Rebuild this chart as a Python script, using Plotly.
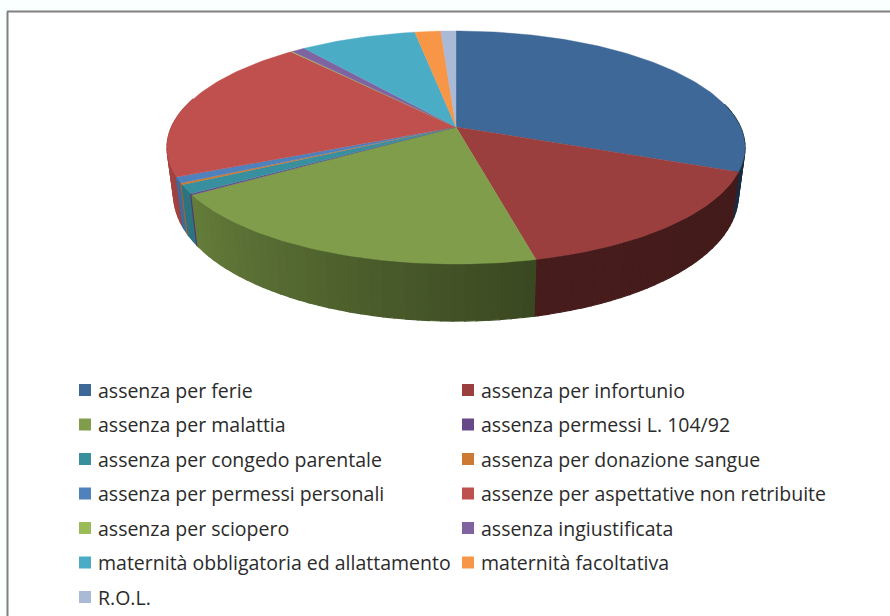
import numpy as np
import plotly.graph_objects as go

categories = ["assenza per ferie", "assenza per infortunio", "assenza per malattia",
              "assenza permessi L. 104/92", "assenza per congedo parentale",
              "assenza per donazione sangue", "assenza per permessi personali",
              "assenze per aspettative non retribuite", "assenza per sciopero",
              "assenza ingiustificata", "maternità obbligatoria ed allattamento",
              "maternità facoltativa", "R.O.L."]
values = [31.1, 15.2, 19.6, 0.17, 1.22, 0.22, 0.8, 20.35, 0.1, 0.9, 7.7, 1.72, 1.0]
colors = ["#3E6897", "#9B3F3E", "#7F9D4A", "#67498A", "#38909F", "#CC7A33", "#4F81BD",
          "#C0504D", "#9BBB59", "#8064A2", "#4BACC6", "#F79646", "#AAB9D6"]

# drawing frame, in page pixels (axes span 0-890 x 616-0)
CX, CY, C, A, K = 456.0, 127.0, -0.176, 90.6, 284.5
WALL_SCALE, D0, D1 = 0.977, 45.0, 12.0
COL_X = [79, 462]
TEXT_X = [96, 479]
ROW_Y0, ROW_STEP = 390, 34.5
FONT = dict(family="Open Sans", size=19.5, color="#2b2b2b")


def top(theta):
    u, v = -np.cos(theta), np.sin(theta)
    w = 1 + C * u
    return CX + K * v / w, (A * u + CY) / w


def bottom(theta):
    x, y = top(theta)
    u = -np.cos(theta)
    return CX + (x - CX) * WALL_SCALE, y + D0 + D1 * u


def shade(hex_color, f):
    rgb = [int(hex_color[i:i + 2], 16) for i in (1, 3, 5)]
    return "rgb(%d,%d,%d)" % tuple(int(c * f) for c in rgb)


def wall_factor(deg):
    return float(np.interp(deg, [90, 167, 237, 262, 285], [0.42, 0.46, 0.80, 0.88, 0.92]))


fig = go.Figure()
fractions = np.array(values) / sum(values)
edges = np.concatenate([[0], np.cumsum(fractions)]) * 2 * np.pi

# walls, back to front
strips = []
for i, col in enumerate(colors):
    a0, a1 = np.degrees(edges[i]), np.degrees(edges[i + 1])
    lo, hi = max(a0, 78), min(a1, 285)
    if hi <= lo:
        continue
    marks = np.append(np.arange(lo, hi, 2.0), hi)
    for s, e in zip(marks[:-1], marks[1:]):
        strips.append((abs(0.5 * (s + e) - 180), s, e, col))
for _, s, e, col in sorted(strips, key=lambda r: -r[0]):
    th = np.radians(np.array([s, e]))
    tx, ty = top(th)
    bx, by = bottom(th)
    f = shade(col, wall_factor(0.5 * (s + e)))
    fig.add_trace(go.Scatter(x=[tx[0], tx[1], bx[1], bx[0], tx[0]],
                             y=[ty[0], ty[1], by[1], by[0], ty[0]],
                             mode="lines", fill="toself", fillcolor=f,
                             line=dict(color=f, width=1.2), showlegend=False, hoverinfo="skip"))

# top faces
for i, col in enumerate(colors):
    th = np.linspace(edges[i], edges[i + 1], max(3, int(np.degrees(edges[i + 1] - edges[i])) + 2))
    x, y = top(th)
    fig.add_trace(go.Scatter(x=np.r_[CX, x, CX], y=np.r_[CY, y, CY], mode="lines", fill="toself",
                             fillcolor=col, line=dict(color=col, width=0.4), name=categories[i],
                             showlegend=False, hoverinfo="skip"))

# key
for i, (name, col) in enumerate(zip(categories, colors)):
    c, r = i % 2, i // 2
    yy = ROW_Y0 + r * ROW_STEP
    fig.add_trace(go.Scatter(x=[COL_X[c] + 6], y=[yy], mode="markers", showlegend=False, hoverinfo="skip",
                             marker=dict(symbol="square", size=12, color=col, line=dict(width=0))))
    fig.add_annotation(x=TEXT_X[c], y=yy, text=name, showarrow=False, xanchor="left", yanchor="middle",
                       xref="x", yref="y", font=FONT)

# frame of the pasted chart
fig.add_shape(type="line", x0=7.5, x1=7.5, y0=11.5, y1=616, xref="x", yref="y", line=dict(color="#808080", width=2))
fig.add_shape(type="line", x0=7, x1=890, y0=11.5, y1=11.5, xref="x", yref="y", line=dict(color="#808080", width=2))
fig.add_shape(type="rect", x0=8, x1=890, y0=12, y1=616, xref="x", yref="y", fillcolor="white",
              line=dict(width=0), layer="below")

fig.update_layout(width=890, height=616, margin=dict(l=0, r=0, t=0, b=0), showlegend=False,
                  paper_bgcolor="#FAFFFF", plot_bgcolor="#FAFFFF",
                  xaxis=dict(range=[0, 890], visible=False, fixedrange=True),
                  yaxis=dict(range=[616, 0], visible=False, fixedrange=True))
fig.write_html("out.html", config=dict(displayModeBar=False),
               post_script="document.body.style.margin='0';document.documentElement.style.overflow='hidden';")
